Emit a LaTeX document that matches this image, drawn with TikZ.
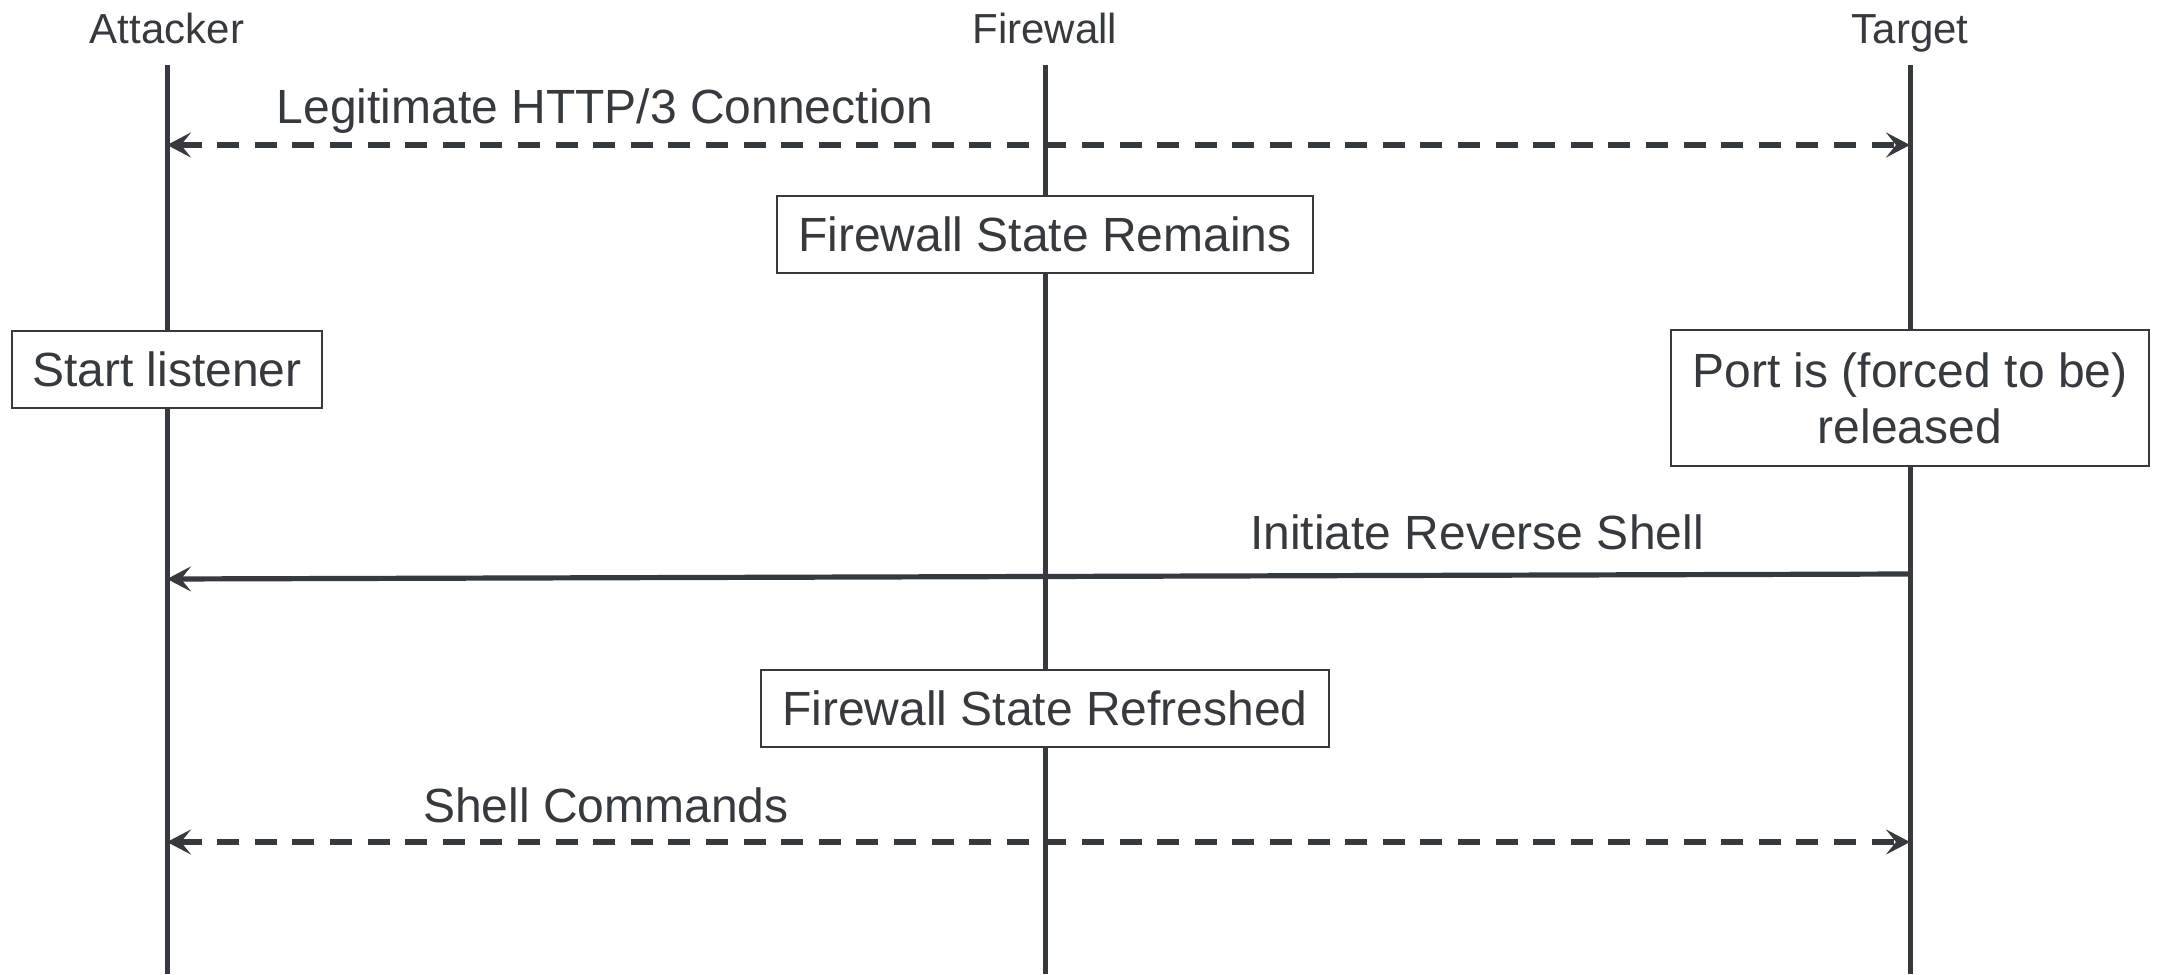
\documentclass[tikz,border=0pt]{standalone}
\usepackage{fontspec}
\setmainfont{Liberation Sans}
\usetikzlibrary{arrows.meta}
\definecolor{ink}{HTML}{36393D}

\begin{document}
\begin{tikzpicture}[
  x=.5pt,y=-.5pt,
  actor/.style={text=ink,font=\fontsize{21}{25}\selectfont,inner sep=0pt,anchor=base},
  msg/.style={text=ink,font=\fontsize{24}{28}\selectfont,inner sep=0pt,anchor=base},
  state/.style={draw=ink,fill=white,line width=1pt,text=ink,align=center,
                font=\fontsize{24}{28}\selectfont,minimum height=38.5pt,inner sep=0pt},
  life/.style={draw=ink,line width=2.5pt},
  call/.style={draw=ink,line width=2.6pt,-{Stealth[length=12pt,width=12.5pt,inset=5pt]}},
  both/.style={draw=ink,line width=2.6pt,dash pattern=on 11pt off 7.8pt,
               {Stealth[length=12pt,width=12.5pt,inset=5pt]}-{Stealth[length=12pt,width=12.5pt,inset=5pt]}}
]
\useasboundingbox (0,0) rectangle (2161,974);

% Participants and their lifelines.
\foreach \n/\x/\t in {attacker/167/Attacker,firewall/1045/Firewall,target/1910/Target} {
  \node[actor] (\n) at (\x,44) {\t};
  \coordinate (\n top) at (\x,65);
  \coordinate (\n end) at (\x,974);
  \draw[life] (\n top) -- (\n end);
}

% Connection set up through the firewall.
\coordinate (a1) at (167,145);
\coordinate (t1) at (1910,145);
\draw[both] (a1) -- (t1);
\node[msg] (legit) at (605,124) {Legitimate HTTP/3 Connection};

\node[state,minimum width=268pt] (remains) at (1045,234) {Firewall State Remains};
\node[state,minimum width=155pt] (listen) at (167,369) {Start listener};
\node[state,minimum width=239pt,minimum height=68pt] (release) at (1910,398)
  {Port is (forced to be)\\released};

% Reverse shell back to the attacker.
\coordinate (t2) at (1910,574);
\coordinate (a2) at (167,579);
\draw[call] (t2) -- (a2);
\node[msg] (reverse) at (1477,549) {Initiate Reverse Shell};

\node[state,minimum width=284pt] (refresh) at (1045,708) {Firewall State Refreshed};

\coordinate (a3) at (167,842);
\coordinate (t3) at (1910,842);
\draw[both] (a3) -- (t3);
\node[msg] (shell) at (606,822) {Shell Commands};

\end{tikzpicture}
\end{document}
